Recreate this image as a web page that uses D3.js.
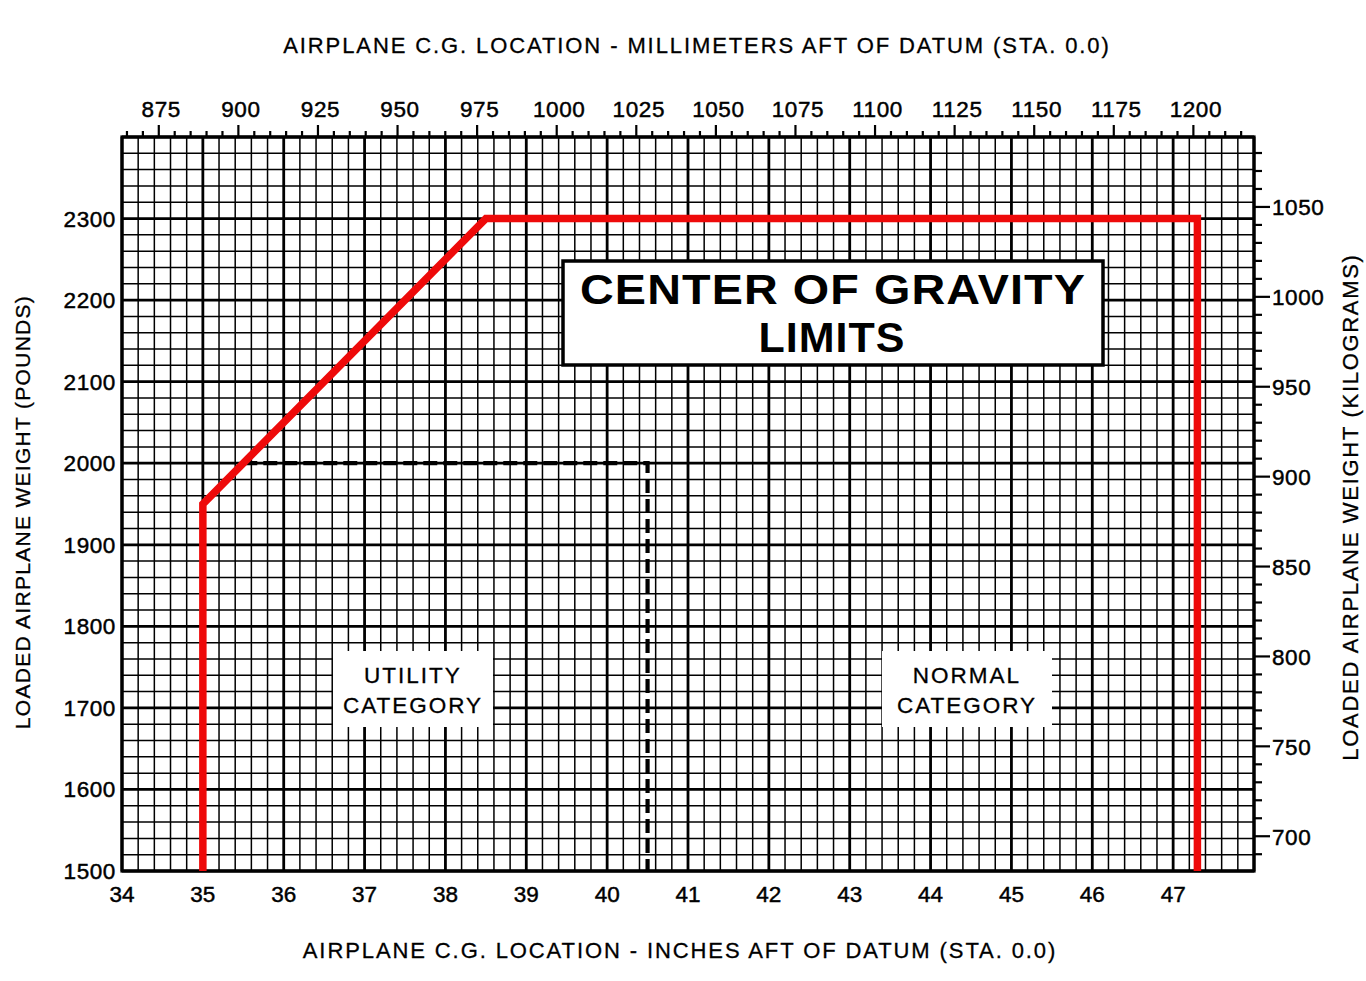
<!DOCTYPE html>
<html>
<head>
<meta charset="utf-8">
<script src="https://cdn.jsdelivr.net/npm/d3@7"></script>
<style>
  html, body { margin: 0; padding: 0; background: #fff; }
  svg { display: block; font-family: "Liberation Sans", Arial, Helvetica, sans-serif; }
</style>
</head>
<body>
<svg id="chart" width="1366" height="981"></svg>
<script>
// ---- Data ----
const normalCG = [35.0, 35.0, 38.5, 47.3, 47.3];          // inches
const normalWeight = [1500, 1950, 2300, 2300, 1500];      // pounds
const utilityCG = [35.5, 40.5, 40.5];
const utilityWeight = [2000, 2000, 1500];
const inchTicks = [34, 35, 36, 37, 38, 39, 40, 41, 42, 43, 44, 45, 46, 47];
const poundTicks = [1500, 1600, 1700, 1800, 1900, 2000, 2100, 2200, 2300];
const mmTicks = [875, 900, 925, 950, 975, 1000, 1025, 1050, 1075, 1100, 1125, 1150, 1175, 1200];
const kgTicks = [700, 750, 800, 850, 900, 950, 1000, 1050];
const title = ["CENTER OF GRAVITY", "LIMITS"];
const utilityLabel = ["UTILITY", "CATEGORY"];
const normalLabel = ["NORMAL", "CATEGORY"];

// ---- Layout ----
const L = 122, R = 1254, T = 137, B = 871;
const svg = d3.select("#chart");
const x = d3.scaleLinear().domain([34, 48]).range([L, R]);
const y = d3.scaleLinear().domain([1500, 2400]).range([B, T]);
const MM = 25.4, KG = 2.20462;
const xmm = d3.scaleLinear().domain([34 * MM, 48 * MM]).range([L, R]);
const ykg = d3.scaleLinear().domain([1500 / KG, 2400 / KG]).range([B, T]);

function heavy(sel) { return sel.attr("stroke", "#000").attr("stroke-width", 0.45).attr("fill", "#000"); }

// ---- Grid ----
const g = svg.append("g");
const minorX = d3.range(34, 48.001, 0.2);
const minorY = d3.range(1500, 2400.1, 20);
g.selectAll("line.vx").data(minorX).join("line")
  .attr("x1", d => x(d)).attr("x2", d => x(d)).attr("y1", T).attr("y2", B)
  .attr("stroke", "#000")
  .attr("stroke-width", d => Math.abs(d - Math.round(d)) < 1e-6 ? 2.8 : 1.5);
g.selectAll("line.hy").data(minorY).join("line")
  .attr("y1", d => y(d)).attr("y2", d => y(d)).attr("x1", L).attr("x2", R)
  .attr("stroke", "#000")
  .attr("stroke-width", d => Math.abs(d % 100) < 1e-6 ? 2.8 : 1.5);
g.append("rect").attr("x", L).attr("y", T).attr("width", R - L).attr("height", B - T)
  .attr("fill", "none").attr("stroke", "#000").attr("stroke-width", 3.2);

// ---- Label boxes (white patches over grid) ----
function patch(cx, cy, w, h, lines, size, spacing) {
  svg.append("rect").attr("x", cx - w / 2).attr("y", cy - h / 2).attr("width", w).attr("height", h).attr("fill", "#fff");
  lines.forEach((t, i) => {
    heavy(svg.append("text").attr("x", cx).attr("y", cy - 4 + i * 30 - 2)
      .attr("text-anchor", "middle").attr("font-size", size)
      .attr("letter-spacing", spacing)).attr("stroke-width", 0.3).text(t);
  });
}
patch(413, 689, 160, 76, utilityLabel, 22.5, 2);
patch(967, 689, 170, 76, normalLabel, 22.5, 2);

// ---- Envelope lines ----
const line = d3.line().x(d => x(d[0])).y(d => y(d[1]));
svg.append("path").datum(utilityCG.map((c, i) => [c, utilityWeight[i]]))
  .attr("d", line).attr("fill", "none").attr("stroke", "#000")
  .attr("stroke-width", 4.2).attr("stroke-dasharray", "14,6");
svg.append("path").datum(normalCG.map((c, i) => [c, normalWeight[i]]))
  .attr("d", line).attr("fill", "none").attr("stroke", "#ee0a0a")
  .attr("stroke-width", 7.5).attr("stroke-linejoin", "miter");

// ---- Title box ----
svg.append("rect").attr("x", 563).attr("y", 261).attr("width", 540).attr("height", 104)
  .attr("fill", "#fff").attr("stroke", "#000").attr("stroke-width", 3.5);
svg.append("text").attr("x", 833).attr("y", 304).attr("text-anchor", "middle")
  .attr("font-size", 43).attr("font-weight", "bold").attr("letter-spacing", 1)
  .attr("textLength", 506).attr("lengthAdjust", "spacingAndGlyphs").text(title[0]);
svg.append("text").attr("x", 832).attr("y", 352).attr("text-anchor", "middle")
  .attr("font-size", 43).attr("font-weight", "bold").attr("letter-spacing", 1).text(title[1]);

// ---- Bottom axis (inches) ----
heavy(svg.append("g")).selectAll("text").data(inchTicks).join("text")
  .attr("x", d => x(d)).attr("y", 902).attr("text-anchor", "middle")
  .attr("font-size", 22.5).text(d => d);
// ---- Left axis (pounds) ----
heavy(svg.append("g")).selectAll("text").data(poundTicks).join("text")
  .attr("x", 116).attr("y", d => y(d) + 8).attr("text-anchor", "end")
  .attr("font-size", 22.5).attr("letter-spacing", 0.6).text(d => d);

// ---- Top axis (millimetres) ----
const topAxis = d3.axisTop(xmm)
  .tickValues(d3.range(865, 1219, 5))
  .tickSize(6).tickFormat("");
const ta = svg.append("g").attr("transform", `translate(0,${T})`).call(topAxis);
ta.select(".domain").remove();
ta.selectAll(".tick line").attr("stroke", "#000").attr("stroke-width", 2.2)
  .attr("y2", d => d % 25 === 0 ? -12 : -6);
heavy(svg.append("g")).selectAll("text").data(mmTicks).join("text")
  .attr("x", d => xmm(d) + 3).attr("y", 117).attr("text-anchor", "middle")
  .attr("font-size", 22.5).attr("letter-spacing", 0.6).text(d => d);

// ---- Right axis (kilograms) ----
const rightAxis = d3.axisRight(ykg)
  .tickValues(d3.range(690, 1089, 10))
  .tickSize(8).tickFormat("");
const ra = svg.append("g").attr("transform", `translate(${R},0)`).call(rightAxis);
ra.select(".domain").remove();
ra.selectAll(".tick line").attr("stroke", "#000").attr("stroke-width", 2.2)
  .attr("x2", d => d % 50 === 0 ? 16 : 8);
heavy(svg.append("g")).selectAll("text").data(kgTicks).join("text")
  .attr("x", 1272).attr("y", d => ykg(d) + 9).attr("text-anchor", "start")
  .attr("font-size", 22.5).attr("letter-spacing", 0.6).text(d => d);

// ---- Axis titles ----
heavy(svg.append("text")).attr("stroke-width", 0.3).attr("x", 697).attr("y", 53).attr("text-anchor", "middle")
  .attr("font-size", 22).attr("letter-spacing", 1.9)
  .text("AIRPLANE C.G. LOCATION - MILLIMETERS AFT OF DATUM (STA. 0.0)");
heavy(svg.append("text")).attr("stroke-width", 0.3).attr("x", 680).attr("y", 958).attr("text-anchor", "middle")
  .attr("font-size", 22).attr("letter-spacing", 1.9)
  .text("AIRPLANE C.G. LOCATION - INCHES AFT OF DATUM (STA. 0.0)");
heavy(svg.append("text")).attr("stroke-width", 0.3).attr("transform", "translate(30,512) rotate(-90)").attr("text-anchor", "middle")
  .attr("font-size", 21).attr("letter-spacing", 1.3)
  .text("LOADED AIRPLANE WEIGHT (POUNDS)");
heavy(svg.append("text")).attr("stroke-width", 0.3).attr("transform", "translate(1358,507) rotate(-90)").attr("text-anchor", "middle")
  .attr("font-size", 22).attr("letter-spacing", 1.7)
  .text("LOADED AIRPLANE WEIGHT (KILOGRAMS)");
</script>
</body>
</html>
